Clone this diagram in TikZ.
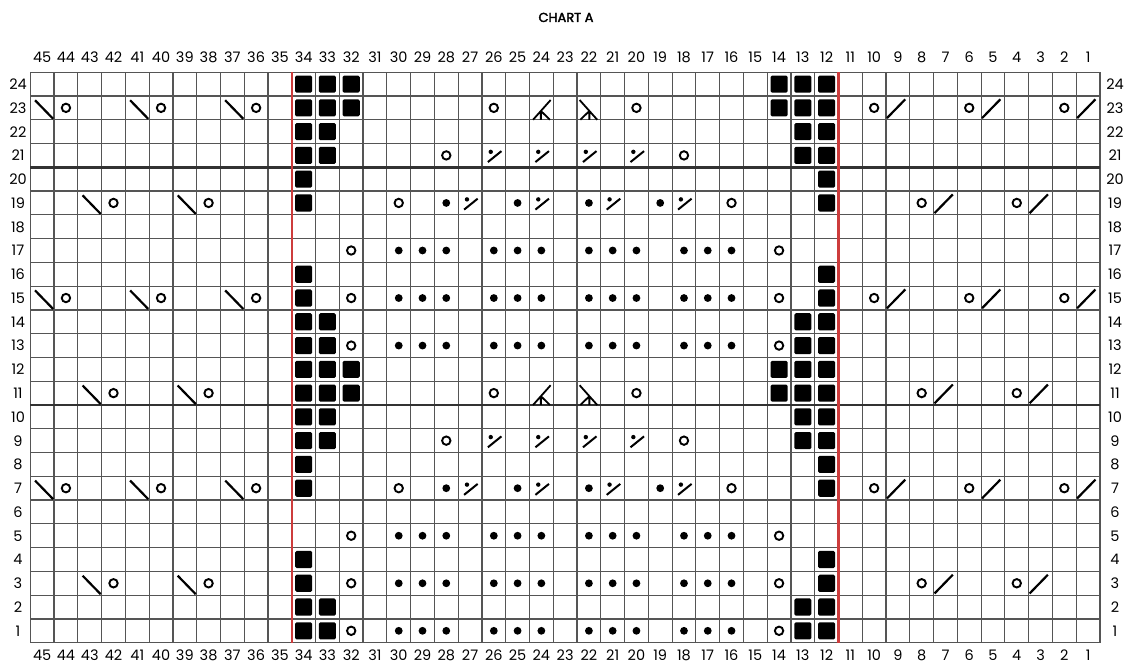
\documentclass[tikz,border=0pt]{standalone}
\usepackage{fontspec}
\setmainfont{Poppins}
\newfontfamily\titlefont{Poppins}[FakeBold=2.5]
\definecolor{gridc}{RGB}{85,85,85}
\definecolor{thickc}{RGB}{50,50,50}
\definecolor{redc}{RGB}{205,60,60}
\tikzset{
  gridl/.style={draw=gridc, line width=1.2pt},
  thickl/.style={draw=thickc, line width=2.6pt},
  redl/.style={draw=redc, line width=2.5pt},
  numl/.style={font=\fontsize{14.5}{16}\selectfont, anchor=base, inner sep=0pt},
  blk/.pic={\fill[black, rounded corners=1.5pt] (0.14,0.14) rectangle (0.86,0.86);},
  yo/.pic={\draw[black, line width=1.9pt] (0.5,0.5) circle[radius=4.2pt];},
  dotp/.pic={\fill[black] (0.5,0.5) circle[radius=3.9pt];},
  lsl/.pic={\draw[black, line width=2.2pt] (0.2,0.82) -- (0.96,0.04);},
  rsl/.pic={\draw[black, line width=2.2pt] (0.04,0.07) -- (0.81,0.86);},
  pdec/.pic={\fill[black] (0.37,0.65) circle[radius=2.2pt];
             \draw[black, line width=2pt] (0.25,0.22) -- (0.82,0.68);},
  kl/.pic={\draw[black, line width=1.8pt] (0.15,0) -- (0.89,0.83)
             (0.48,0.37) -- (0.86,0) (0.48,0.37) -- (0.48,0);},
  kr/.pic={\draw[black, line width=1.8pt] (0.85,0) -- (0.11,0.83)
             (0.52,0.37) -- (0.14,0) (0.52,0.37) -- (0.52,0);}
}
\begin{document}
\begin{tikzpicture}[x=1pt,y=1pt]
\useasboundingbox (0,0) rectangle (1129,664);
\fill[white] (0,0) rectangle (1129,664);
\node[font=\titlefont\fontsize{13}{15}\selectfont, anchor=base, inner sep=0pt] (title) at (566,642) {CHART A};
% column numbers
\foreach \c in {1,...,45} {
  \node[numl] (ct\c) at ({30.3+(45.5-\c)*23.77},601.3) {\c};
  \node[numl] (cb\c) at ({30.3+(45.5-\c)*23.77},3.5) {\c};
}
% row numbers
\foreach \r in {1,...,24} {
  \node[numl] (rl\r) at (18,{21.3+(\r-0.5)*23.77-5.4}) {\r};
  \node[numl] (rr\r) at (1115,{21.3+(\r-0.5)*23.77-5.4}) {\r};
}
\begin{scope}[shift={(30.3,21.3)}, x=23.77pt, y=23.77pt]
  \foreach \i in {0,...,45} \draw[gridl] (\i,0) -- (\i,24);
  \foreach \j in {0,...,24} \draw[gridl] (0,\j) -- (45,\j);
  \draw[thickl] (0,10) -- (45,10);
  \draw[thickl] (0,20) -- (45,20);
  \draw[redl] (11,0) -- (11,24);
  \draw[redl] (34,0) -- (34,24);
  % black squares
  \foreach \c/\r in {34/24,33/24,32/24,14/24,13/24,12/24,
    34/23,33/23,32/23,14/23,13/23,12/23,
    34/22,33/22,13/22,12/22, 34/21,33/21,13/21,12/21,
    34/20,12/20, 34/19,12/19, 34/16,12/16, 34/15,12/15,
    34/14,33/14,13/14,12/14, 34/13,33/13,13/13,12/13,
    34/12,33/12,32/12,14/12,13/12,12/12,
    34/11,33/11,32/11,14/11,13/11,12/11,
    34/10,33/10,13/10,12/10, 34/9,33/9,13/9,12/9,
    34/8,12/8, 34/7,12/7, 34/4,12/4, 34/3,12/3,
    34/2,33/2,13/2,12/2, 34/1,33/1,13/1,12/1}
    \pic at ({45-\c},{\r-1}) {blk};
  % yarn overs
  \foreach \c/\r in {44/23,40/23,36/23,26/23,20/23,10/23,6/23,2/23,
    28/21,18/21, 42/19,38/19,30/19,16/19,8/19,4/19, 32/17,14/17,
    44/15,40/15,36/15,32/15,14/15,10/15,6/15,2/15, 32/13,14/13,
    42/11,38/11,26/11,20/11,8/11,4/11, 28/9,18/9,
    44/7,40/7,36/7,30/7,16/7,10/7,6/7,2/7, 32/5,14/5,
    42/3,38/3,32/3,14/3,8/3,4/3, 32/1,14/1}
    \pic at ({45-\c},{\r-1}) {yo};
  % left slants
  \foreach \c/\r in {45/23,41/23,37/23, 43/19,39/19, 45/15,41/15,37/15,
    43/11,39/11, 45/7,41/7,37/7, 43/3,39/3}
    \pic at ({45-\c},{\r-1}) {lsl};
  % right slants
  \foreach \c/\r in {9/23,5/23,1/23, 7/19,3/19, 9/15,5/15,1/15,
    7/11,3/11, 9/7,5/7,1/7, 7/3,3/3}
    \pic at ({45-\c},{\r-1}) {rsl};
  % purl dots
  \foreach \r in {1,3,5,13,15,17}
    \foreach \c in {30,29,28,26,25,24,22,21,20,18,17,16}
      \pic at ({45-\c},{\r-1}) {dotp};
  \foreach \r in {7,19}
    \foreach \c in {28,25,22,19}
      \pic at ({45-\c},{\r-1}) {dotp};
  % dot-slash
  \foreach \r in {9,21}
    \foreach \c in {26,24,22,20}
      \pic at ({45-\c},{\r-1}) {pdec};
  \foreach \r in {7,19}
    \foreach \c in {27,24,21,18}
      \pic at ({45-\c},{\r-1}) {pdec};
  % double decreases
  \foreach \r in {11,23} {
    \pic at ({45-24},{\r-1}) {kl};
    \pic at ({45-22},{\r-1}) {kr};
  }
\end{scope}
\end{tikzpicture}
\end{document}
